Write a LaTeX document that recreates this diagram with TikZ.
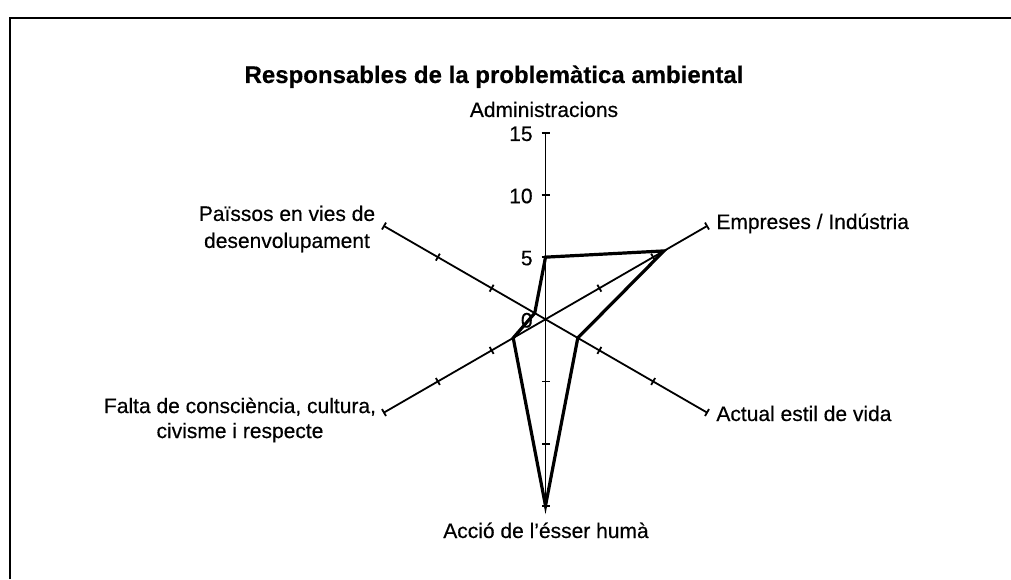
\documentclass[tikz,border=0pt]{standalone}
\usepackage{fontspec}
\setmainfont{Liberation Sans}[FakeBold=0.4]
\usetikzlibrary{positioning}

\begin{document}
\begin{tikzpicture}[x=0.5pt,y=0.5pt,
    axis/.style={line width=0.9pt},
    serie/.style={line width=1.6pt},
    lbl/.style={inner sep=0pt,font=\fontsize{10.5}{12.5}\selectfont},
    num/.style={lbl,anchor=east}]
  \useasboundingbox (0,0) rectangle (1011,579);
  % frame
  \draw[line width=1pt] (10,0) -- (10,561) -- (1011,561);
  \node[anchor=base,inner sep=0pt,font=\bfseries\fontsize{12}{14}\selectfont] (title) at (494,496)
    {Responsables de la problemàtica ambiental};
  \begin{scope}[shift={(545.5,259.7)}]
    \coordinate (O) at (0,0);
    % axes
    \foreach \a/\n in {90/1,30/2,-30/3,-90/4,210/5,150/6} {
      \coordinate (e\n) at (\a:186.5);
      \draw[axis] (O) -- (e\n);
      \foreach \r in {62.2,124.3,186.5}
        \draw[axis] (\a:\r) ++(\a+90:4) -- ++(\a-90:8);
    }
    \foreach \v in {0,5,10,15}
      \node[num] (n\v) at (-12.5,{\v*12.43-1}) {\v};
    % data
    \foreach \a/\v/\n in {90/5/1,30/11/2,-30/3/3,-90/15/4,210/3/5,150/1/6}
      \coordinate (p\n) at (\a:{\v*12.43});
    \draw[serie] (p1) -- (p2) -- (p3) -- (p4) -- (p5) -- (p6) -- cycle;
  \end{scope}
  % labels
  \node[lbl,anchor=base] (admin) at (544,462) {Administracions};
  \node[lbl,anchor=base west] (empr) at (716,350) {Empreses / Indústria};
  \node[lbl,anchor=base west] (estil) at (716,158) {Actual estil de vida};
  \node[lbl,anchor=base] (accio) at (546,41) {Acció de l'ésser humà};
  \node[lbl,align=center,font=\fontsize{10.5}{13.5}\selectfont] (paisos) at (287,350)
    {Païssos en vies de\\desenvolupament};
  \node[lbl,align=center,font=\fontsize{10.5}{12.5}\selectfont] (falta) at (240,159)
    {Falta de consciència, cultura,\\civisme i respecte};
\end{tikzpicture}
\end{document}
